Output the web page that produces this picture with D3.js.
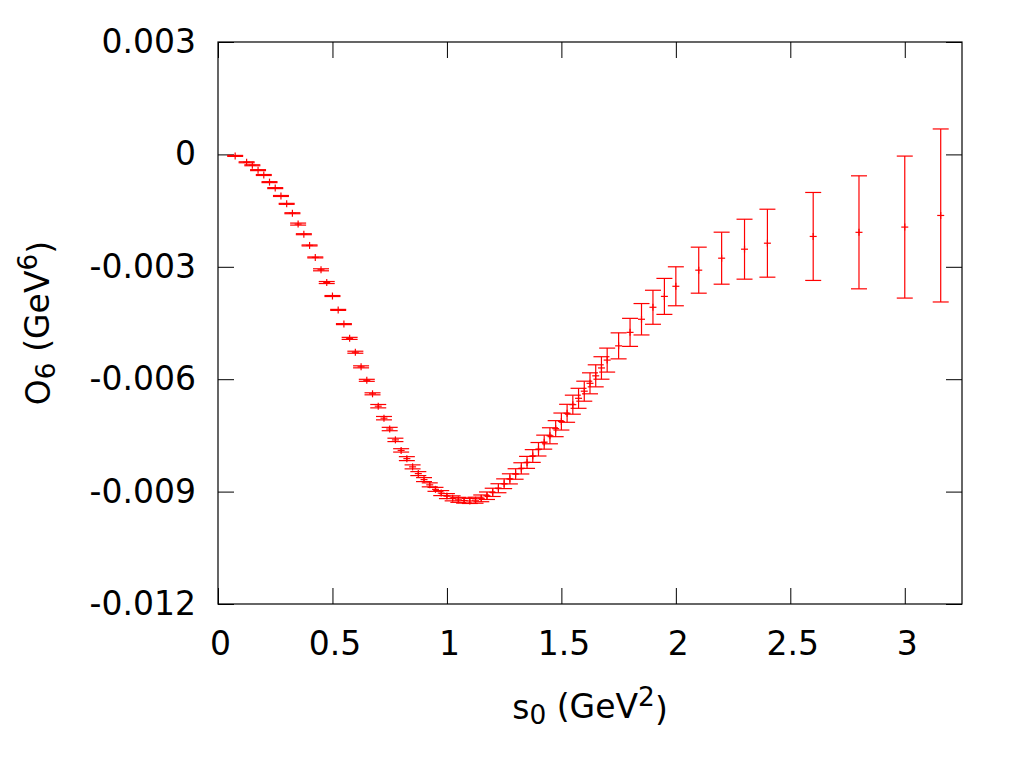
<!DOCTYPE html>
<html>
<head>
<meta charset="utf-8">
<script src="https://cdn.jsdelivr.net/npm/d3@7"></script>
<style>
  body { margin: 0; background: #fff; }
  text { font-family: "DejaVu Sans", sans-serif; fill: #000; }
</style>
</head>
<body>
<div id="chart"></div>
<script>
// s0 values (GeV^2)
const s0 = [
  0.075, 0.125, 0.15, 0.175, 0.2, 0.225, 0.25, 0.275, 0.3, 0.325,
  0.35, 0.375, 0.4, 0.425, 0.45, 0.475, 0.5, 0.525, 0.55, 0.575,
  0.6, 0.625, 0.65, 0.675, 0.7, 0.725, 0.75, 0.775, 0.8, 0.825,
  0.85, 0.875, 0.9, 0.925, 0.95, 0.975, 1.0, 1.025, 1.05, 1.075,
  1.1, 1.125, 1.15, 1.175, 1.2, 1.225, 1.25, 1.275, 1.3, 1.325,
  1.35, 1.375, 1.4, 1.425, 1.45, 1.475, 1.5, 1.525, 1.55, 1.575,
  1.6, 1.625, 1.65, 1.675, 1.7, 1.75, 1.8, 1.85, 1.9, 1.95,
  2.0, 2.1, 2.2, 2.3, 2.4, 2.6, 2.8, 3.0, 3.157
];
// O6 central values (GeV^6)
const o6 = [
  -0.00004, -0.00021, -0.00029, -0.00042, -0.00055, -0.00074, -0.00090, -0.00111, -0.00132, -0.00157,
  -0.00186, -0.00213, -0.00243, -0.00275, -0.00308, -0.00342, -0.00378, -0.00415, -0.00453, -0.00491,
  -0.00528, -0.00567, -0.00603, -0.00639, -0.00672, -0.00704, -0.00733, -0.00762, -0.00790, -0.00812,
  -0.00834, -0.00852, -0.00868, -0.00882, -0.00894, -0.00904, -0.00912, -0.00918, -0.00922, -0.00924,
  -0.00925, -0.00923, -0.00918, -0.00911, -0.00902, -0.00891, -0.00879, -0.00866, -0.00853, -0.00838,
  -0.00822, -0.00805, -0.00787, -0.00768, -0.00751, -0.00732, -0.00713, -0.00691, -0.00668, -0.00651,
  -0.00632, -0.00611, -0.00591, -0.00570, -0.00549, -0.00511, -0.00475, -0.00440, -0.00408, -0.00379,
  -0.00352, -0.00309, -0.00277, -0.00253, -0.00237, -0.00219, -0.00208, -0.00194, -0.00163
];
// O6 errors (GeV^6)
const o6Err = [
  0.000013, 0.000013, 0.000013, 0.000013, 0.000013, 0.000013, 0.000013, 0.000013, 0.000013, 0.000013,
  0.000027, 0.000013, 0.000013, 0.000013, 0.000027, 0.000027, 0.000013, 0.000013, 0.000013, 0.000027,
  0.000027, 0.000027, 0.000027, 0.000027, 0.000045, 0.000045, 0.000045, 0.000045, 0.000045, 0.000053,
  0.000053, 0.000053, 0.000053, 0.000053, 0.000053, 0.000067, 0.000067, 0.000067, 0.000067, 0.000067,
  0.000067, 0.00008, 0.00009, 0.0001, 0.00011, 0.00012, 0.00013, 0.000135, 0.00014, 0.00015,
  0.00016, 0.00017, 0.00018, 0.000187, 0.000214, 0.000214, 0.000227, 0.00024, 0.000254, 0.000267,
  0.000267, 0.00028, 0.000294, 0.0003, 0.00032, 0.000347, 0.000374, 0.000419, 0.000454, 0.00048,
  0.00052, 0.000614, 0.000694, 0.0008, 0.000907, 0.001174, 0.001508, 0.001895, 0.002309
];

const xTicks = [0, 0.5, 1, 1.5, 2, 2.5, 3];
const xTickLabels = ["0", "0.5", "1", "1.5", "2", "2.5", "3"];
const yTicks = [0.003, 0, -0.003, -0.006, -0.009, -0.012];
const yTickLabels = ["0.003", "0", "-0.003", "-0.006", "-0.009", "-0.012"];

const width = 1024, height = 768;
const margin = {top: 42, right: 62, bottom: 164, left: 218};
const fontSize = 33;
const tickLen = 16;
const capW = 8;     // half width of error bar caps
const ptSize = 3.5; // half size of the "+" point

const svg = d3.select("#chart").append("svg")
    .attr("width", width)
    .attr("height", height);

const x = d3.scaleLinear()
    .domain([0, 3.25])
    .range([margin.left, width - margin.right]);

const y = d3.scaleLinear()
    .domain([-0.012, 0.003])
    .range([height - margin.bottom, margin.top]);

// axes, ticks pointing inwards
let xAxis = svg.append("g")
    .attr("transform", "translate(0," + (height - margin.bottom) + ")")
    .call(d3.axisBottom(x).tickValues(xTicks)
        .tickFormat((d, i) => xTickLabels[i])
        .tickSize(-tickLen).tickPadding(28));

let yAxis = svg.append("g")
    .attr("transform", "translate(" + margin.left + ",0)")
    .call(d3.axisLeft(y).tickValues(yTicks)
        .tickFormat((d, i) => yTickLabels[i])
        .tickSize(-tickLen).tickPadding(22));

// mirrored ticks
svg.append("g")
    .attr("transform", "translate(0," + margin.top + ")")
    .call(d3.axisTop(x).tickValues(xTicks).tickFormat("").tickSize(-tickLen));
svg.append("g")
    .attr("transform", "translate(" + (width - margin.right) + ",0)")
    .call(d3.axisRight(y).tickValues(yTicks).tickFormat("").tickSize(-tickLen));

svg.selectAll(".domain").remove();
svg.selectAll(".tick line").attr("stroke", "#000").attr("stroke-width", 1);
svg.selectAll(".tick text")
    .style("font-size", fontSize + "px")
    .style("font-family", "'DejaVu Sans', sans-serif");
xAxis.selectAll(".tick text").attr("dx", "2");

// frame
svg.append("rect")
    .attr("x", margin.left)
    .attr("y", margin.top)
    .attr("width", width - margin.right - margin.left)
    .attr("height", height - margin.bottom - margin.top)
    .attr("fill", "none")
    .attr("stroke", "#000")
    .attr("stroke-width", 1.2);

// data points with error bars
const data = s0.map((s, i) => ({s: s, v: o6[i], e: o6Err[i]}));

let pts = svg.append("g")
    .attr("stroke", "#ff0000")
    .attr("stroke-width", 1.2)
    .attr("fill", "none")
    .selectAll("g")
    .data(data)
    .enter().append("g");

pts.append("line")
    .attr("x1", d => x(d.s)).attr("x2", d => x(d.s))
    .attr("y1", d => y(d.v - d.e)).attr("y2", d => y(d.v + d.e));
pts.append("line")
    .attr("x1", d => x(d.s) - capW).attr("x2", d => x(d.s) + capW)
    .attr("y1", d => y(d.v + d.e)).attr("y2", d => y(d.v + d.e));
pts.append("line")
    .attr("x1", d => x(d.s) - capW).attr("x2", d => x(d.s) + capW)
    .attr("y1", d => y(d.v - d.e)).attr("y2", d => y(d.v - d.e));
// "+" point symbol
pts.append("line")
    .attr("x1", d => x(d.s) - ptSize).attr("x2", d => x(d.s) + ptSize)
    .attr("y1", d => y(d.v)).attr("y2", d => y(d.v));
pts.append("line")
    .attr("x1", d => x(d.s)).attr("x2", d => x(d.s))
    .attr("y1", d => y(d.v) - ptSize).attr("y2", d => y(d.v) + ptSize);

// axis titles
let xLabel = svg.append("text")
    .attr("x", (margin.left + width - margin.right) / 2)
    .attr("y", 719)
    .attr("text-anchor", "middle")
    .style("font-size", fontSize + "px");
xLabel.append("tspan").text("s");
xLabel.append("tspan").attr("dy", "0.2em").style("font-size", "0.8em").text("0");
xLabel.append("tspan").attr("dy", "-0.2em").text(" (GeV");
xLabel.append("tspan").attr("dy", "-0.45em").style("font-size", "0.8em").text("2");
xLabel.append("tspan").attr("dy", "0.45em").text(")");

let yLabel = svg.append("text")
    .attr("transform", "translate(50," + ((margin.top + height - margin.bottom) / 2) + ") rotate(-90)")
    .attr("text-anchor", "middle")
    .style("font-size", fontSize + "px");
yLabel.append("tspan").text("O");
yLabel.append("tspan").attr("dy", "0.2em").style("font-size", "0.8em").text("6");
yLabel.append("tspan").attr("dy", "-0.2em").text(" (GeV");
yLabel.append("tspan").attr("dy", "-0.45em").style("font-size", "0.8em").text("6");
yLabel.append("tspan").attr("dy", "0.45em").text(")");
</script>
</body>
</html>
